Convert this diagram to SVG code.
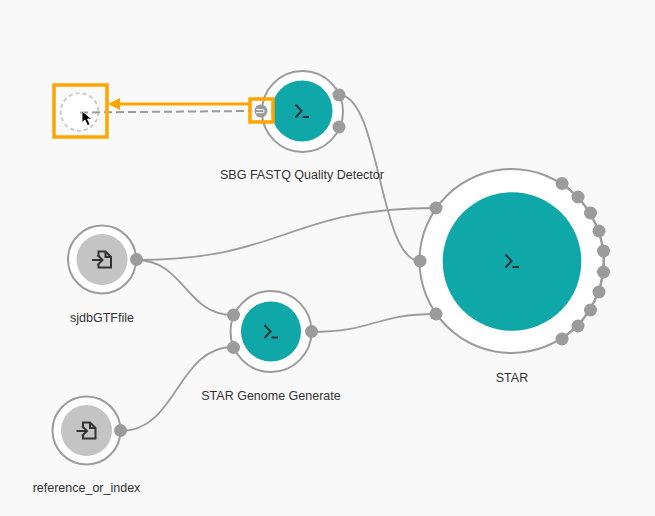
<svg xmlns="http://www.w3.org/2000/svg" width="655" height="516" viewBox="0 0 655 516">
<style>
.ring{fill:#fff;stroke:#9b9b9b;stroke-width:2}
.teal{fill:#0fa7a8}
.gray{fill:#c4c4c4}
.port{fill:#9b9b9b}
.wire{fill:none;stroke:#9b9b9b;stroke-width:1.8}
.ico{fill:none;stroke:#333;stroke-width:2}
.lbl{font:12.5px "Liberation Sans",Arial,sans-serif;fill:#333;text-anchor:middle}
.hl{fill:none;stroke:#ffa500;stroke-width:3.5}
</style>
<defs>
<g id="term" class="ico"><path d="M-6.5,-6.5L-0.5,0L-6.5,6.5"/><path d="M0.5,6H7"/></g>
<g id="file" class="ico"><path d="M-10,0.5H0M-4.5,-4.5L0.5,0.5L-4.5,5.5"/><path d="M-3.5,-3V-8H3.5L9,-2.5V8H-3.5V5M3.5,-8V-2.5H9"/></g>
</defs>
<rect width="655" height="516" fill="#f9f9f9"/>
<g id="connectors">
<path class="wire" d="M339,95C380,95 379,261 420,261"/>
<path class="wire" d="M136,260C286,260 286,208 436,208"/>
<path class="wire" d="M136,260C185,260 185,315 233,315"/>
<path class="wire" d="M121,431C177,431 177,347 233,347"/>
<path class="wire" d="M312,332C374,332 374,314 436,314"/>
</g>
<g id="node-sbg">
<circle class="ring" cx="302.5" cy="111.5" r="40.5"/>
<circle class="teal" cx="302" cy="111" r="30.5"/>
<use href="#term" x="302" y="111"/>
<circle class="port" cx="339" cy="95" r="6.5"/>
<circle class="port" cx="339" cy="127" r="6.5"/>
<text class="lbl" x="302" y="179">SBG FASTQ Quality Detector</text>
</g>
<g id="node-star">
<circle class="ring" cx="511.5" cy="261" r="92"/>
<path d="M562,183L578,197L590,213L599,231L604,251L604,272L599,292L590,310L578,326L562,339" fill="none" stroke="#9b9b9b" stroke-width="2"/>
<circle class="teal" cx="512" cy="261.5" r="69.3"/>
<use href="#term" x="512" y="261"/>
<circle class="port" cx="436" cy="208" r="6.5"/>
<circle class="port" cx="420" cy="261" r="6.5"/>
<circle class="port" cx="436" cy="314" r="6.5"/>
<circle class="port" cx="562" cy="183.5" r="6.5"/>
<circle class="port" cx="578" cy="197" r="6.5"/>
<circle class="port" cx="590.500" cy="213" r="6.5"/>
<circle class="port" cx="599" cy="231" r="6.5"/>
<circle class="port" cx="603.500" cy="251" r="6.5"/>
<circle class="port" cx="603.500" cy="272" r="6.5"/>
<circle class="port" cx="599" cy="292" r="6.5"/>
<circle class="port" cx="590.500" cy="310" r="6.5"/>
<circle class="port" cx="578" cy="326" r="6.5"/>
<circle class="port" cx="562" cy="339" r="6.5"/>
<text class="lbl" x="512" y="382">STAR</text>
</g>
<g id="node-sjdb">
<circle class="ring" cx="102" cy="259.500" r="34"/>
<circle class="gray" cx="102" cy="259.500" r="25.500"/>
<use href="#file" x="102" y="259.500"/>
<circle class="port" cx="136.500" cy="259.500" r="6.5"/>
<text class="lbl" x="102" y="322">sjdbGTFfile</text>
</g>
<g id="node-genome">
<circle class="ring" cx="271" cy="331.500" r="40.500"/>
<circle class="teal" cx="271" cy="331.500" r="30"/>
<use href="#term" x="271" y="331.500"/>
<circle class="port" cx="233.500" cy="315" r="6.5"/>
<circle class="port" cx="233.500" cy="347.500" r="6.5"/>
<circle class="port" cx="311.500" cy="331.500" r="6.5"/>
<text class="lbl" x="271" y="400">STAR Genome Generate</text>
</g>
<g id="node-reference">
<circle class="ring" cx="86.500" cy="430.500" r="34"/>
<circle class="gray" cx="86.500" cy="430.500" r="25.500"/>
<use href="#file" x="86.500" y="430.500"/>
<circle class="port" cx="120.500" cy="430.500" r="6.5"/>
<text class="lbl" x="86.500" y="492">reference_or_index</text>
</g>
<g id="node-drop">
<circle cx="79.500" cy="112" r="18.800" fill="#fff" stroke="#ccc" stroke-width="2" stroke-dasharray="4 3"/>
<path d="M80,112.500L250,111" fill="none" stroke="#9b9b9b" stroke-width="2" stroke-dasharray="8 4"/>
<circle class="port" cx="261" cy="111" r="6.5"/>
<path d="M256,109.500H262.500A1.600,1.600 0 0 1 262.500,112.700H256" fill="none" stroke="#fff" stroke-width="1"/>
<rect class="hl" x="54" y="85" width="53" height="52"/>
<rect class="hl" x="250" y="99" width="23" height="23"/>
<path d="M250,104H118" fill="none" stroke="#ffa500" stroke-width="3"/>
<polygon points="108,104 120,98 120,110" fill="#ffa500"/>
<polygon points="82,111 82,122.500 85,120 87.500,125.500 90,124.500 87.500,119 91.500,119" fill="#000" stroke="#fff" stroke-width="0.800"/>
</g>
</svg>
